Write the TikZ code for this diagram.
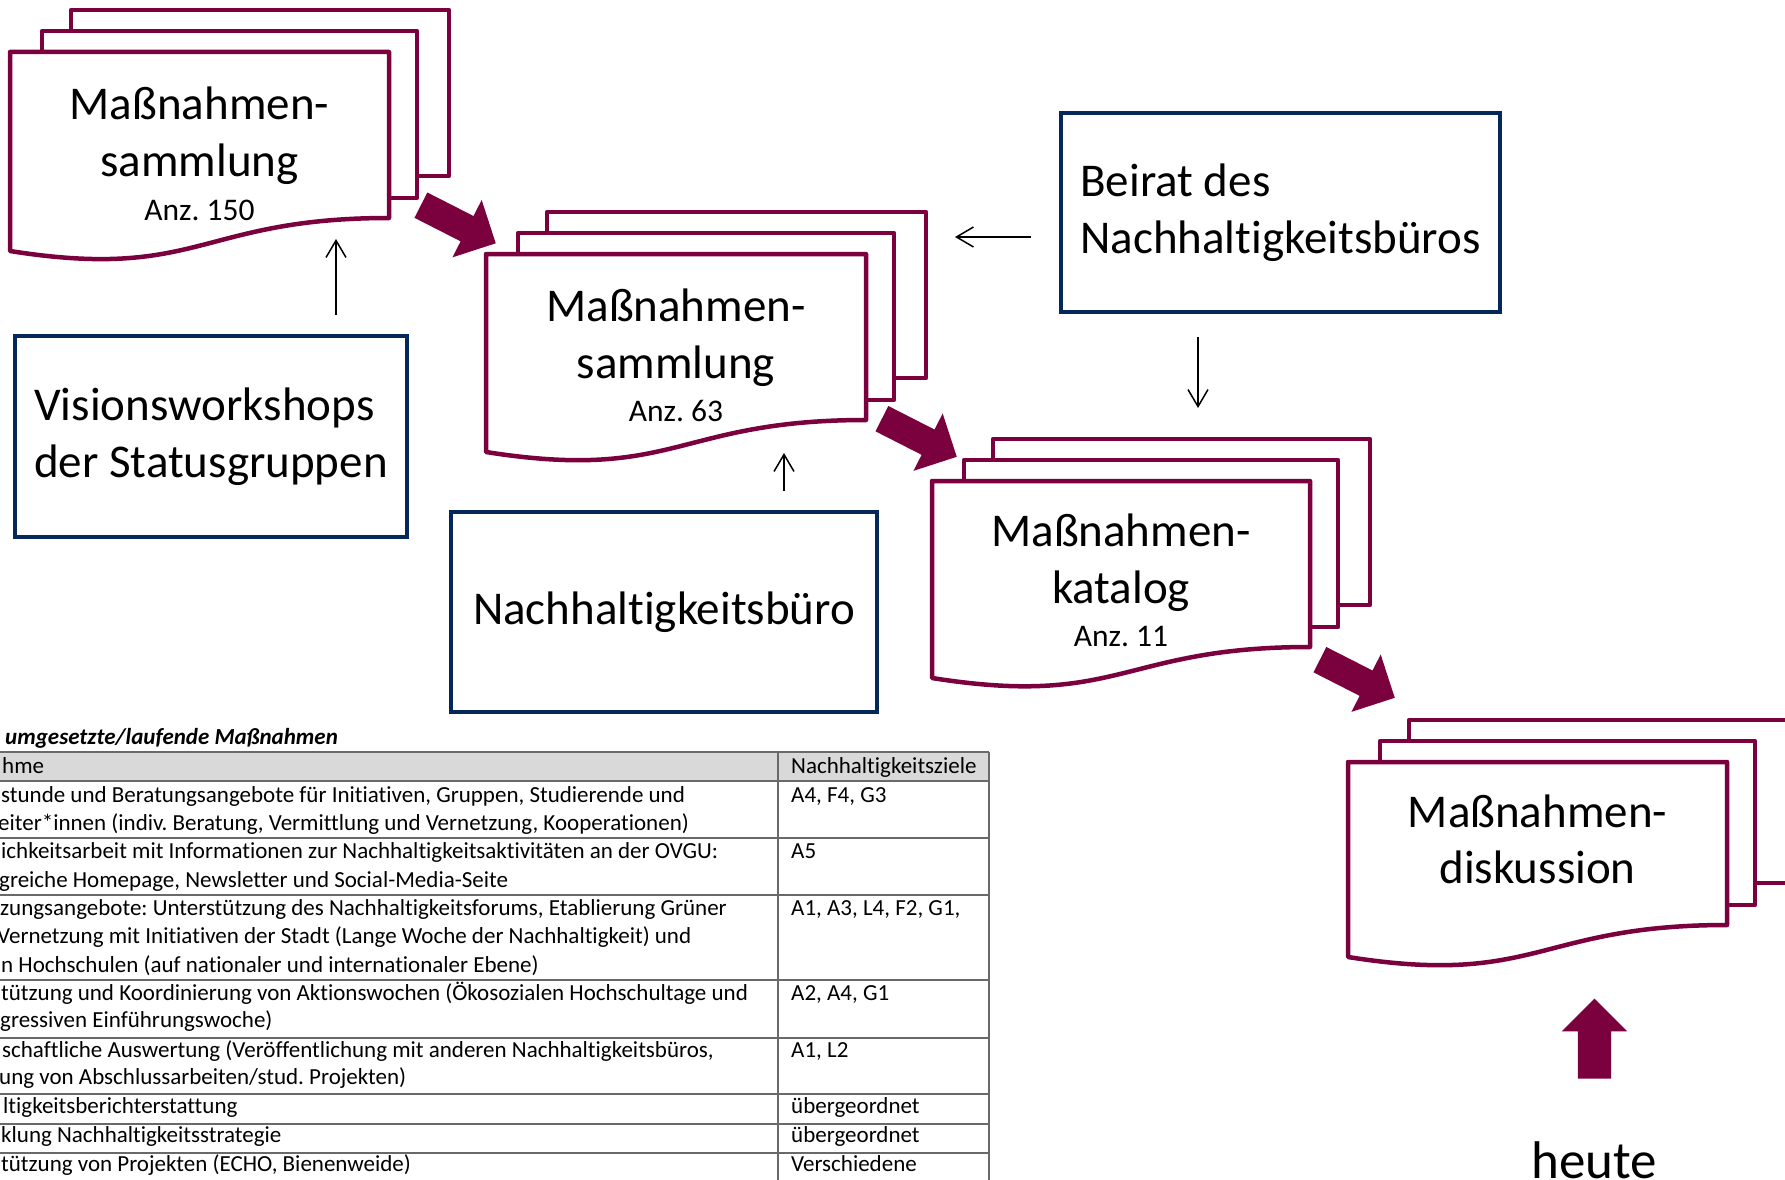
\documentclass[tikz,border=0pt]{standalone}
\usepackage{fontspec}
\setmainfont{Carlito}[Ligatures={NoCommon}]
\frenchspacing
\usetikzlibrary{arrows.meta,shapes.arrows}
\definecolor{ovMaroon}{RGB}{123,0,62}
\definecolor{ovNavy}{RGB}{5,40,90}
\definecolor{ovGray}{RGB}{105,105,105}
\definecolor{ovHead}{RGB}{217,217,217}
\tikzset{
    page/.style={draw=ovMaroon, line width=4.5pt, fill=white, line join=round},
    box/.style={rectangle, draw=ovNavy, line width=4.2pt, fill=white, align=left,
                font=\fontsize{47}{57}\selectfont},
    doctext/.style={anchor=base, inner sep=0pt, font=\fontsize{47}{57}\selectfont},
    anz/.style={anchor=base, inner sep=0pt, font=\fontsize{31.5}{38}\selectfont},
    link/.style={-{Straight Barb[length=17pt,width=20pt]}, line width=1.5pt, black},
    bigarrow/.style={single arrow, fill=ovMaroon, draw=none, minimum height=84pt,
                     inner xsep=0pt, inner ysep=14pt, single arrow head extend=18pt},
    tabcell/.style={anchor=base west, inner sep=0pt, font=\fontsize{23}{28}\selectfont},
    tabline/.style={draw=ovGray, line width=1.2pt}
}
% stack of three pages: left, top, right, right bottom, left bottom
\newcommand{\multidoc}[5]{
  \filldraw[page] (#1+61,#2-42) rectangle (#3+60,#4-42);
  \filldraw[page] (#1+32,#2-21) rectangle (#3+28,#4-20);
  \filldraw[page] (#1,#2) -- (#3,#2) -- (#3,#4)
    .. controls ({(#1+#3)/2},#4) and ({(#1+#3)/2},#5+30) .. (#1,#5) -- cycle;
}

\begin{document}
\begin{tikzpicture}[x=1pt, y=-1pt]
  \useasboundingbox (0,0) rectangle (1785,1180);
  \clip (0,0) rectangle (1785,1180);
  \fill[white] (0,0) rectangle (1785,1180);

  % Document stacks
  \multidoc{10}{52}{389}{218}{251}
  \node[doctext] (d1) at (199.5,119.5) {Maßnahmen-};
  \node[doctext] (d1b) at (199.5,176) {sammlung};
  \node[anz] (d1n) at (199.5,220) {Anz. 150};

  \multidoc{486}{254}{866}{420}{452}
  \node[doctext] (d2) at (676,321.7) {Maßnahmen-};
  \node[doctext] (d2b) at (676,378) {sammlung};
  \node[anz] (d2n) at (676,421.7) {Anz. 63};

  \multidoc{932}{481}{1310}{647}{678}
  \node[doctext] (d3) at (1121,546.7) {Maßnahmen-};
  \node[doctext] (d3b) at (1121,603) {katalog};
  \node[anz] (d3n) at (1121,646.7) {Anz. 11};

  \multidoc{1348}{762}{1727}{925}{957}
  \node[doctext] (d4) at (1537.5,827) {Maßnahmen-};
  \node[doctext] (d4b) at (1537.5,883) {diskussion};

  % Actors
  \node[box, minimum width=392pt, minimum height=201pt] (vis) at (211,436.5)
    {Visionsworkshops\\der Statusgruppen};
  \node[box, minimum width=426pt, minimum height=200pt] (nb) at (664,612)
    {Nachhaltigkeitsbüro};
  \node[box, minimum width=439pt, minimum height=199pt] (beirat) at (1280.5,212.5)
    {Beirat des\\Nachhaltigkeitsbüros};

  % Input arrows
  \coordinate (t1) at (336,239);
  \coordinate (t2) at (784,453);
  \coordinate (t3) at (955,237);
  \coordinate (t4) at (1198,408);
  \draw[link, shorten <=19pt] (vis.north -| t1) -- (t1);
  \draw[link, shorten <=19pt] (nb.north -| t2) -- (t2);
  \draw[link, shorten <=28pt] (beirat.west |- t3) -- (t3);
  \draw[link, shorten <=23pt] (beirat.south -| t4) -- (t4);

  % Process arrows
  \node[bigarrow, rotate=-27] (a1) at (452,221) {};
  \node[bigarrow, rotate=-27] (a2) at (913,434.5) {};
  \node[bigarrow, rotate=-27] (a3) at (1351,675.5) {};
  \node[bigarrow, rotate=90, minimum height=80pt, inner ysep=16.5pt,
        single arrow head extend=16pt] (a4) at (1594.5,1047) {};
  \node[anchor=base, inner sep=0pt, font=\fontsize{53}{60}\selectfont] (heute)
    at (1594,1178) {heute};

  % Table
  \fill[ovHead] (0,752) rectangle (989,781);
  \draw[tabline] (0,752) -- (989,752);
  \draw[tabline] (0,781) -- (989,781);
  \draw[tabline] (0,838) -- (989,838);
  \draw[tabline] (0,895) -- (989,895);
  \draw[tabline] (0,980) -- (989,980);
  \draw[tabline] (0,1038) -- (989,1038);
  \draw[tabline] (0,1094) -- (989,1094);
  \draw[tabline] (0,1124) -- (989,1124);
  \draw[tabline] (0,1153) -- (989,1153);
  \draw[tabline] (778,752) -- (778,1180);
  \draw[tabline] (989,752) -- (989,1180);

  \node[tabcell, font=\fontsize{23}{28}\selectfont\bfseries\itshape] (ttl) at (5,744)
    {umgesetzte/laufende Maßnahmen};
  \node[tabcell] (h1) at (2,773) {hme};
  \node[tabcell] (h2) at (791,773) {Nachhaltigkeitsziele};

  \node[tabcell] (r1) at (1,802) {stunde und Beratungsangebote für Initiativen, Gruppen, Studierende und};
  \node[tabcell] (r1b) at (-2,830) {eiter*innen (indiv. Beratung, Vermittlung und Vernetzung, Kooperationen)};
  \node[tabcell] (z1) at (791,802) {A4, F4, G3};

  \node[tabcell] (r2) at (1,858) {ichkeitsarbeit mit Informationen zur Nachhaltigkeitsaktivitäten an der OVGU:};
  \node[tabcell] (r2b) at (-1,887) {greiche Homepage, Newsletter und Social-Media-Seite};
  \node[tabcell] (z2) at (791,858) {A5};

  \node[tabcell] (r3) at (0,915) {zungsangebote: Unterstützung des Nachhaltigkeitsforums, Etablierung Grüner};
  \node[tabcell] (r3b) at (-3,943) {Vernetzung mit Initiativen der Stadt (Lange Woche der Nachhaltigkeit) und};
  \node[tabcell] (r3c) at (1,972) {n Hochschulen (auf nationaler und internationaler Ebene)};
  \node[tabcell] (z3) at (791,915) {A1, A3, L4, F2, G1,};

  \node[tabcell] (r4) at (1,1000) {tützung und Koordinierung von Aktionswochen (Ökosozialen Hochschultage und};
  \node[tabcell] (r4b) at (0,1027) {gressiven Einführungswoche)};
  \node[tabcell] (z4) at (791,1000) {A2, A4, G1};

  \node[tabcell] (r5) at (2,1057) {schaftliche Auswertung (Veröffentlichung mit anderen Nachhaltigkeitsbüros,};
  \node[tabcell] (r5b) at (-1,1084) {ung von Abschlussarbeiten/stud. Projekten)};
  \node[tabcell] (z5) at (791,1057) {A1, L2};

  \node[tabcell] (r6) at (3,1113) {ltigkeitsberichterstattung};
  \node[tabcell] (z6) at (791,1113) {übergeordnet};
  \node[tabcell] (r7) at (1,1142) {klung Nachhaltigkeitsstrategie};
  \node[tabcell] (z7) at (791,1142) {übergeordnet};
  \node[tabcell] (r8) at (1,1171) {tützung von Projekten (ECHO, Bienenweide)};
  \node[tabcell] (z8) at (791,1171) {Verschiedene};
\end{tikzpicture}
\end{document}
